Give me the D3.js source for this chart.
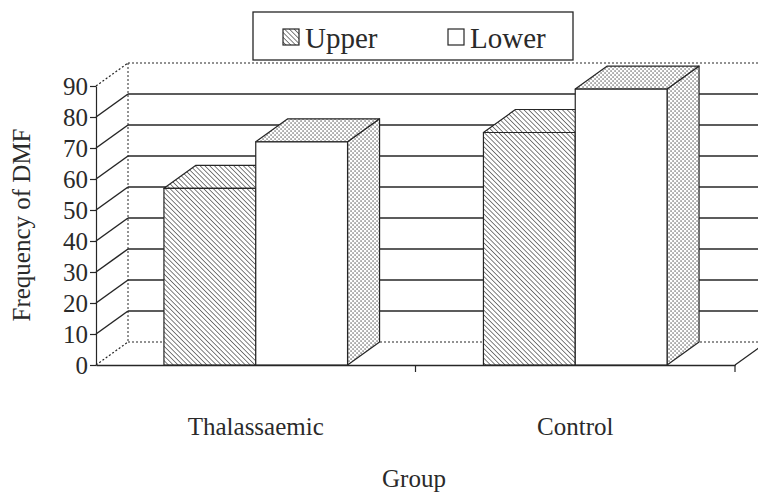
<!DOCTYPE html>
<html>
<head>
<meta charset="utf-8">
<script src="https://cdn.jsdelivr.net/npm/d3@7"></script>
<style>
  body { margin: 0; background: #fff; }
  svg text { font-family: "Liberation Serif", "Times New Roman", Tinos, "DejaVu Serif", serif !important; fill: #2a2a2a; }
</style>
</head>
<body>
<script>
// data
let groups = ["Thalassaemic", "Control"];
let series = ["Upper", "Lower"];
let upperValues = [57, 75];
let lowerValues = [72, 89];
let yTicks = [0, 10, 20, 30, 40, 50, 60, 70, 80, 90];

let W = 758, H = 495;
let ink = "#262626";
let dx = 32, dy = -23; // depth offset of the 3d box

let svg = d3.select("body").append("svg").attr("width", W).attr("height", H);

// patterns
let defs = svg.append("defs");
let hatch = defs.append("pattern").attr("id", "hatch").attr("patternUnits", "userSpaceOnUse")
  .attr("width", 3.4).attr("height", 3.4).attr("patternTransform", "rotate(-45)");
hatch.append("rect").attr("width", 3.4).attr("height", 3.4).attr("fill", "#fff");
hatch.append("line").attr("x1", 0).attr("y1", 0).attr("x2", 0).attr("y2", 3.4).attr("stroke", "#3a3a3a").attr("stroke-width", 1.3);

let dots = defs.append("pattern").attr("id", "dots").attr("patternUnits", "userSpaceOnUse")
  .attr("width", 4).attr("height", 4);
dots.append("rect").attr("width", 4).attr("height", 4).attr("fill", "#fff");
dots.append("rect").attr("x", 0.4).attr("y", 0.4).attr("width", 1.3).attr("height", 1.3).attr("fill", "#555");
dots.append("rect").attr("x", 2.4).attr("y", 2.4).attr("width", 1.3).attr("height", 1.3).attr("fill", "#555");

// scales
let y = d3.scaleLinear().domain([0, 90]).range([365, 86]);
let x0 = d3.scaleBand().domain(groups).range([96, 735]).paddingInner(0).paddingOuter(0);
let x1 = d3.scaleBand().domain(series).range([0, x0.bandwidth()]).paddingInner(0).paddingOuter(0.74);

// back wall grid lines
let grid = svg.append("g");
yTicks.forEach(function(v) {
  let edge = v === 0 || v === 90;
  grid.append("line")
    .attr("x1", 96 + dx).attr("x2", W + 10)
    .attr("y1", y(v) + dy).attr("y2", y(v) + dy)
    .attr("stroke", ink).attr("stroke-width", edge ? 1.2 : 1.5)
    .attr("stroke-dasharray", edge ? "2,2" : null);
  grid.append("line")
    .attr("x1", 96).attr("x2", 96 + dx)
    .attr("y1", y(v)).attr("y2", y(v) + dy)
    .attr("stroke", ink).attr("stroke-width", edge ? 1.2 : 1.5)
    .attr("stroke-dasharray", edge ? "2,2" : null);
});
// back wall left edge
grid.append("line").attr("x1", 96 + dx).attr("x2", 96 + dx)
  .attr("y1", y(90) + dy).attr("y2", y(0) + dy)
  .attr("stroke", ink).attr("stroke-width", 1).attr("stroke-dasharray", "2,2");

// bars
let bars = [];
groups.forEach(function(g, i) {
  bars.push({ group: g, key: "Upper", value: upperValues[i] });
  bars.push({ group: g, key: "Lower", value: lowerValues[i] });
});

let barG = svg.append("g").attr("stroke", ink).attr("stroke-width", 1.2).attr("stroke-linejoin", "round");
bars.forEach(function(b) {
  let xa = x0(b.group) + x1(b.key);
  let xb = xa + x1.bandwidth();
  let yt = y(b.value);
  let yb = y(0);
  let frontFill = b.key === "Upper" ? "url(#hatch)" : "#fff";
  let topFill = b.key === "Upper" ? "url(#hatch)" : "url(#dots)";
  // side
  barG.append("polygon")
    .attr("points", [[xb, yt], [xb + dx, yt + dy], [xb + dx, yb + dy], [xb, yb]].join(" "))
    .attr("fill", "url(#dots)");
  // top
  barG.append("polygon")
    .attr("points", [[xa, yt], [xb, yt], [xb + dx, yt + dy], [xa + dx, yt + dy]].join(" "))
    .attr("fill", topFill);
  // front
  barG.append("rect")
    .attr("x", xa).attr("y", yt).attr("width", xb - xa).attr("height", yb - yt)
    .attr("fill", frontFill);
});

// y axis
let yAxis = svg.append("g").attr("transform", "translate(96,0)")
  .call(d3.axisLeft(y).tickValues(yTicks).tickSize(6).tickSizeOuter(0).tickPadding(2));
yAxis.attr("font-family", null);
yAxis.selectAll("path, line").attr("stroke", ink).attr("stroke-width", 1.2);
yAxis.selectAll("text").attr("font-size", 25).attr("fill", "#2a2a2a").attr("dy", "0.34em");

// x axis
let xAxis = svg.append("g").attr("transform", "translate(0,365)")
  .call(d3.axisBottom(x0).tickSize(0).tickPadding(52));
xAxis.attr("font-family", null);
xAxis.select(".domain").attr("stroke", ink).attr("stroke-width", 1.5);
xAxis.selectAll("text").attr("font-size", 25).attr("fill", "#2a2a2a");
// boundary ticks
let bounds = groups.map(function(g) { return x0(g); }).concat([x0.range()[1]]).slice(1);
bounds.forEach(function(bx) {
  svg.append("line").attr("x1", bx).attr("x2", bx).attr("y1", 365).attr("y2", 372)
    .attr("stroke", ink).attr("stroke-width", 1.2);
});
// floor right edge
svg.append("line").attr("x1", 735).attr("y1", 365).attr("x2", 735 + dx).attr("y2", 365 + dy)
  .attr("stroke", ink).attr("stroke-width", 1.3);

// axis titles
svg.append("text").attr("transform", "translate(30,225) rotate(-90)")
  .attr("text-anchor", "middle").attr("font-size", 25).text("Frequency of DMF");
svg.append("text").attr("x", 414).attr("y", 487)
  .attr("text-anchor", "middle").attr("font-size", 25).text("Group");

// legend
let leg = svg.append("g");
leg.append("rect").attr("x", 253).attr("y", 12).attr("width", 320).attr("height", 48)
  .attr("fill", "#fff").attr("stroke", ink).attr("stroke-width", 1.3);
let legX = [283, 448];
series.forEach(function(s, i) {
  leg.append("rect").attr("x", legX[i]).attr("y", 29).attr("width", 16).attr("height", 16)
    .attr("fill", s === "Upper" ? "url(#hatch)" : "#fff").attr("stroke", ink).attr("stroke-width", 1.2);
  leg.append("text").attr("x", legX[i] + 22).attr("y", 48).attr("font-size", 29).text(s);
});
</script>
</body>
</html>
